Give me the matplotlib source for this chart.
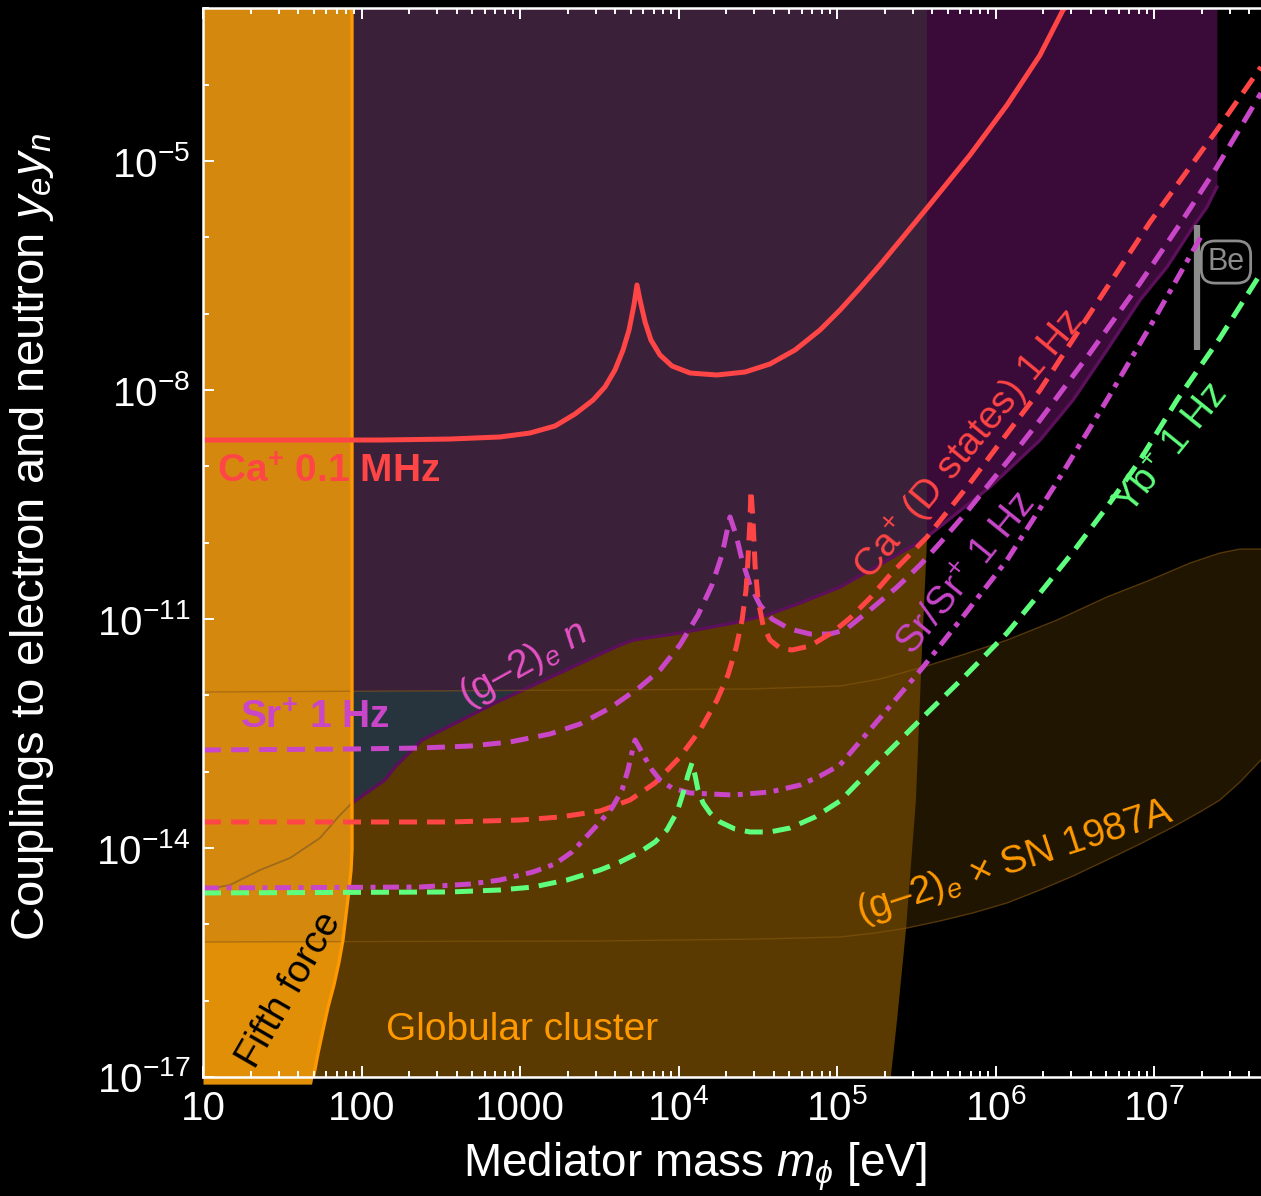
"""Ion-clock reach for electron-neutron Yukawa couplings vs mediator mass."""

import matplotlib

matplotlib.use("Agg")

import matplotlib.pyplot as plt  # noqa: E402
import numpy as np  # noqa: E402
from matplotlib.ticker import FixedFormatter, FixedLocator, NullFormatter  # noqa: E402

plt.rcParams["font.family"] = ["Liberation Sans", "DejaVu Sans"]
plt.rcParams["mathtext.fontset"] = "custom"
plt.rcParams["mathtext.rm"] = "Liberation Sans"
plt.rcParams["mathtext.it"] = "Liberation Sans:italic"
plt.rcParams["mathtext.bf"] = "Liberation Sans:bold"
plt.rcParams["mathtext.sf"] = "Liberation Sans"

# Everything below as log10(m_phi / eV) and log10(y_e y_n).

# Ca+ 0.1 MHz (solid)
CA_MHZ_LOGM = [1.000, 2.117, 2.558, 2.874, 3.063, 3.221, 3.347, 3.461, 3.536, 3.599,
               3.650, 3.688, 3.719, 3.738, 3.757, 3.789, 3.826, 3.883, 3.959, 4.073,
               4.243, 4.420, 4.577, 4.735, 4.893, 5.019, 5.145, 5.271, 5.568, 5.839,
               6.073, 6.281, 6.426, 6.502]
CA_MHZ_LOGY = [-8.655, -8.655, -8.642, -8.615, -8.563, -8.471, -8.314, -8.131, -7.960, -7.738,
               -7.476, -7.213, -6.886, -6.624, -6.820, -7.109, -7.345, -7.541, -7.685, -7.777,
               -7.803, -7.764, -7.659, -7.476, -7.213, -6.952, -6.663, -6.362, -5.615, -4.921,
               -4.266, -3.611, -3.021, -2.850]

# Ca+ (D states) 1 Hz (dashed)
CA_D_LOGM = [1.000, 2.558, 3.000, 3.252, 3.505, 3.694, 3.852, 4.009, 4.136, 4.243,
             4.312, 4.363, 4.401, 4.426, 4.438, 4.451, 4.457, 4.470, 4.483, 4.502,
             4.533, 4.577, 4.640, 4.716, 4.830, 4.975, 5.082, 5.208, 5.334, 5.568,
             5.820, 6.009, 6.281, 6.577, 6.975, 7.397, 7.675]
CA_D_LOGY = [-13.659, -13.659, -13.633, -13.594, -13.515, -13.371, -13.148, -12.808, -12.454, -12.061,
             -11.733, -11.380, -11.013, -10.620, -10.227, -9.703, -9.310, -9.703, -10.292, -10.751,
             -11.078, -11.275, -11.380, -11.406, -11.353, -11.170, -10.987, -10.725, -10.423, -9.925,
             -9.270, -8.746, -8.000, -7.056, -5.799, -4.593, -3.768]

# Sr+ 1 Hz (dashed)
SR_ION_LOGM = [1.000, 1.927, 2.369, 2.685, 2.937, 3.189, 3.379, 3.568, 3.757, 3.883,
               4.009, 4.123, 4.211, 4.274, 4.325, 4.363, 4.401, 4.451, 4.514, 4.590,
               4.703, 4.830, 4.956, 5.050, 5.208, 5.379, 5.524, 5.650, 5.808, 5.965,
               6.123, 6.281, 6.596, 6.912, 7.164, 7.397, 7.675]
SR_ION_LOGY = [-12.716, -12.703, -12.690, -12.664, -12.611, -12.506, -12.375, -12.166, -11.891, -11.668,
               -11.340, -10.947, -10.554, -10.161, -9.663, -9.899, -10.227, -10.554, -10.816, -11.000,
               -11.131, -11.196, -11.196, -11.144, -10.882, -10.581, -10.292, -10.004, -9.624, -9.218,
               -8.812, -8.393, -7.515, -6.598, -5.825, -5.078, -4.109]

# Sr/Sr+ 1 Hz (dash-dot)
SR_RATIO_LOGM = [1.000, 2.369, 2.685, 2.874, 3.082, 3.221, 3.328, 3.423, 3.505, 3.580,
                 3.644, 3.681, 3.707, 3.726, 3.751, 3.789, 3.833, 3.883, 3.959, 4.073,
                 4.344, 4.577, 4.767, 4.893, 5.019, 5.271, 5.543, 5.808, 6.073, 6.388,
                 6.703, 7.006, 7.309]
SR_RATIO_LOGY = [-14.524, -14.511, -14.472, -14.419, -14.314, -14.209, -14.052, -13.843, -13.659, -13.476,
                 -13.240, -12.978, -12.742, -12.585, -12.677, -12.821, -12.978, -13.109, -13.214, -13.279,
                 -13.306, -13.266, -13.175, -13.057, -12.912, -12.297, -11.629, -10.934, -10.227, -9.205,
                 -8.131, -7.056, -5.943]

# Yb+ 1 Hz (dashed)
YB_LOGM = [1.000, 2.558, 2.874, 3.082, 3.297, 3.505, 3.631, 3.757, 3.852, 3.927,
           3.991, 4.035, 4.060, 4.085, 4.104, 4.123, 4.155, 4.199, 4.262, 4.356,
           4.451, 4.577, 4.703, 4.861, 5.019, 5.271, 5.543, 5.808, 6.073, 6.281,
           6.489, 6.703, 6.912, 7.145, 7.416, 7.675]
YB_LOGY = [-14.589, -14.576, -14.550, -14.511, -14.419, -14.288, -14.183, -14.052, -13.921, -13.764,
           -13.528, -13.240, -13.043, -12.886, -13.043, -13.240, -13.410, -13.541, -13.659, -13.751,
           -13.790, -13.790, -13.738, -13.594, -13.384, -12.847, -12.284, -11.746, -11.183, -10.659,
           -10.122, -9.532, -8.917, -8.131, -7.318, -6.467]

# (g-2)_e n excluded region, lower edge
G2N_LOGM = [1.000, 1.170, 1.360, 1.549, 1.738, 1.864, 1.940, 2.148, 2.211, 2.382,
            2.420, 2.842, 3.631, 3.713, 4.009, 4.344, 4.558, 4.767, 5.019, 5.543,
            5.965, 6.281, 6.489, 6.703, 6.912, 7.082, 7.246, 7.334, 7.397]
G2N_LOGY = [-14.550, -14.485, -14.288, -14.131, -13.869, -13.568, -13.410, -13.109, -12.939, -12.585,
            -12.546, -12.100, -11.340, -11.275, -11.183, -11.052, -10.947, -10.790, -10.581, -9.965,
            -9.270, -8.655, -8.131, -7.476, -6.820, -6.388, -5.864, -5.602, -5.340]

# (g-2)_e x SN 1987A band
SN_UPPER_LOGM = [1.000, 3.505, 4.451, 5.019, 5.271, 5.543, 5.808, 6.073, 6.388, 6.703,
                 6.975, 7.227, 7.416, 7.543, 7.675]
SN_UPPER_LOGY = [-11.956, -11.930, -11.917, -11.878, -11.786, -11.629, -11.458, -11.275, -11.013, -10.711,
                 -10.489, -10.266, -10.135, -10.083, -10.083]
SN_LOWER_LOGM = [1.000, 3.505, 4.514, 5.019, 5.240, 5.442, 5.650, 5.858, 6.073, 6.281,
                 6.489, 6.703, 6.912, 7.120, 7.290, 7.416, 7.543, 7.675]
SN_LOWER_LOGY = [-15.231, -15.218, -15.192, -15.166, -15.113, -15.048, -14.956, -14.851, -14.720, -14.550,
                 -14.367, -14.157, -13.947, -13.725, -13.528, -13.371, -13.135, -12.847]

# Fifth force edge (left of it excluded) and globular cluster right edge
FIFTH_LOGY = [-2.900, -14.026, -14.288, -14.550, -14.878, -15.205, -15.493, -15.795, -16.083, -16.384,
              -16.686, -17.100]
FIFTH_LOGM = [1.940, 1.940, 1.934, 1.921, 1.902, 1.883, 1.858, 1.826, 1.789, 1.757,
              1.726, 1.688]
GC_EDGE_LOGY = [-2.900, -9.965, -11.406, -13.371, -15.074, -16.253, -17.100]
GC_EDGE_LOGM = [5.568, 5.568, 5.536, 5.498, 5.435, 5.379, 5.334]

# Be isotope-shift bar
BE_LOGM = 7.271
BE_LOGY = [-7.476, -5.838]

X_TICK_LABELS = ["10", "100", "1000", "$10^{4}$", "$10^{5}$", "$10^{6}$", "$10^{7}$"]
Y_TICK_EXPONENTS = [-17, -14, -11, -8, -5]

RED = "#FF4545"
MAGENTA = "#C946C9"
GREEN = "#5EFF7C"
ORANGE = "#FF9900"
TOP = 10.0 ** -2.9
BOTTOM = 10.0 ** -17.1


def _lin(values):
    return 10.0 ** np.asarray(values, dtype=float)


def _draw_regions(ax):
    sn_x = _lin(SN_UPPER_LOGM + SN_LOWER_LOGM[::-1])
    sn_y = _lin(SN_UPPER_LOGY + SN_LOWER_LOGY[::-1])
    ax.fill(sn_x, sn_y, color="#201500", lw=0, zorder=1)

    gc_x = _lin(FIFTH_LOGM + GC_EDGE_LOGM[::-1])
    gc_y = _lin(FIFTH_LOGY + GC_EDGE_LOGY[::-1])
    ax.fill(gc_x, gc_y, color="#5A3A00", lw=0, zorder=2)

    purple = ax.fill_between(_lin(G2N_LOGM), _lin(G2N_LOGY), TOP,
                             color="#3A0A38", lw=0, zorder=3)
    purple_path = purple.get_paths()[0]
    (gc_purple,) = ax.fill(gc_x, gc_y, color="#3A2139", lw=0, zorder=4)
    gc_purple.set_clip_path(purple_path, ax.transData)
    (sn_purple,) = ax.fill(sn_x, sn_y, color="#27343E", lw=0, zorder=5)
    sn_purple.set_clip_path(purple_path, ax.transData)
    ax.plot(_lin(G2N_LOGM), _lin(G2N_LOGY), color="#5C0F5A", lw=2.4, zorder=6)

    fifth = ax.fill_betweenx(_lin(FIFTH_LOGY), 1.0, _lin(FIFTH_LOGM),
                             color="#D5880E", lw=0, zorder=7)
    low = ax.fill_between(_lin(SN_LOWER_LOGM), BOTTOM, _lin(SN_LOWER_LOGY),
                          color="#E28F08", lw=0, zorder=7.1)
    low.set_clip_path(fifth.get_paths()[0], ax.transData)

    for logm, logy in ((SN_UPPER_LOGM, SN_UPPER_LOGY), (SN_LOWER_LOGM, SN_LOWER_LOGY)):
        ax.plot(_lin(logm), _lin(logy), color="#8A5A14", lw=1.0, alpha=0.55, zorder=7.5)
    hidden = np.asarray(G2N_LOGM) <= FIFTH_LOGM[0]
    ax.plot(_lin(G2N_LOGM)[hidden], _lin(G2N_LOGY)[hidden], color="#9C6A1C", lw=1.3, zorder=7.6)
    ax.plot(_lin(FIFTH_LOGM), _lin(FIFTH_LOGY), color=ORANGE, lw=2.4, zorder=8)

    ax.plot([10.0 ** BE_LOGM] * 2, _lin(BE_LOGY), color="#8C8C8C", lw=4.5,
            solid_capstyle="butt", zorder=9)
    ax.text(10.0 ** 7.454, 10.0 ** -6.323, "Be", color="#8C8C8C", fontsize=22,
            ha="center", va="center", zorder=9,
            bbox=dict(boxstyle="round,pad=0.2,rounding_size=0.45", fc="none",
                      ec="#8C8C8C", lw=2.0))


def _draw_curves(ax):
    dashed = (0, (3.6, 2.0))
    ax.plot(_lin(CA_MHZ_LOGM), _lin(CA_MHZ_LOGY), color=RED, lw=3.6, zorder=10)
    ax.plot(_lin(SR_ION_LOGM), _lin(SR_ION_LOGY), color=MAGENTA, lw=3.6, ls=dashed, zorder=10)
    ax.plot(_lin(CA_D_LOGM), _lin(CA_D_LOGY), color=RED, lw=3.6, ls=dashed, zorder=10)
    ax.plot(_lin(SR_RATIO_LOGM), _lin(SR_RATIO_LOGY), color=MAGENTA, lw=3.6,
            ls=(0, (3.2, 1.5, 1.0, 1.5)), zorder=10)
    ax.plot(_lin(YB_LOGM), _lin(YB_LOGY), color=GREEN, lw=3.6, ls=dashed, zorder=10)


def _draw_labels(ax):
    def put(logm, logy, text, color, angle=0.0, **kw):
        ax.text(10.0 ** logm, 10.0 ** logy, text, color=color, fontsize=28,
                rotation=angle, rotation_mode="anchor", ha=kw.pop("ha", "center"),
                va="center", zorder=12, **kw)

    put(1.088, -9.074, r"Ca$^{\mathbf{+}}$ 0.1 MHz", RED, ha="left", fontweight="bold")
    put(1.233, -12.297, r"Sr$^{\mathbf{+}}$ 1 Hz", MAGENTA, ha="left", fontweight="bold")
    put(3.019, -11.602, r"(g–2)$_e$ $n$", "#E451C4", 29)
    put(5.839, -8.720, r"Ca$^{+}$ (D states) 1 Hz", RED, 50.5)
    put(5.820, -10.423, r"Sr/Sr$^{+}$ 1 Hz", MAGENTA, 51)
    put(7.114, -8.786, r"Yb$^{+}$ 1 Hz", GREEN, 51)
    put(6.123, -14.183, r"(g–2)$_e$ × SN 1987A", ORANGE, 18)
    put(1.549, -15.860, "Fifth force", "black", 60)
    put(3.013, -16.384, "Globular cluster", ORANGE)


def main():
    fig = plt.figure(figsize=(12.61, 11.96), dpi=100, facecolor="black")
    ax = fig.add_axes((203 / 1261, 119 / 1196, 1058 / 1261, 1069 / 1196))
    ax.set_facecolor("black")
    ax.set_xscale("log")
    ax.set_yscale("log")

    _draw_regions(ax)
    _draw_curves(ax)
    _draw_labels(ax)

    ax.set_xlim(10.0, 10.0 ** 7.675)
    ax.set_ylim(1e-17, 10.0 ** -2.995)

    ax.xaxis.set_major_locator(FixedLocator([10.0 ** k for k in range(1, 8)]))
    ax.xaxis.set_major_formatter(FixedFormatter(X_TICK_LABELS))
    ax.xaxis.set_minor_locator(
        FixedLocator([s * 10.0 ** k for k in range(1, 8) for s in range(2, 10)])
    )
    ax.xaxis.set_minor_formatter(NullFormatter())
    ax.yaxis.set_major_locator(FixedLocator([10.0 ** e for e in Y_TICK_EXPONENTS]))
    ax.yaxis.set_major_formatter(
        FixedFormatter([f"$10^{{{e}}}$" for e in Y_TICK_EXPONENTS])
    )
    ax.yaxis.set_minor_locator(FixedLocator([10.0 ** k for k in range(-17, -2)]))
    ax.yaxis.set_minor_formatter(NullFormatter())

    ax.tick_params(which="both", direction="in", colors="white", top=True,
                   right=False, width=1.4)
    ax.tick_params(which="major", length=8, labelsize=29, pad=9)
    ax.tick_params(which="minor", length=4.5)
    for side in ("left", "bottom", "top"):
        ax.spines[side].set_color("white")
        ax.spines[side].set_linewidth(1.8)
        ax.spines[side].set_zorder(20)
    ax.spines["right"].set_visible(False)
    ax.xaxis.set_zorder(20)
    ax.yaxis.set_zorder(20)

    ax.set_xlabel(r"Mediator mass $m_\phi$ [eV]", color="white", fontsize=33)
    ax.set_ylabel(r"Couplings to electron and neutron $y_e y_n$", color="white", fontsize=34)
    ax.xaxis.set_label_coords(0.465, -0.059)
    ax.yaxis.set_label_coords(-0.139, 0.505)

    fig.savefig("out.png", dpi=100, facecolor="black")
    plt.close(fig)


if __name__ == "__main__":
    main()
